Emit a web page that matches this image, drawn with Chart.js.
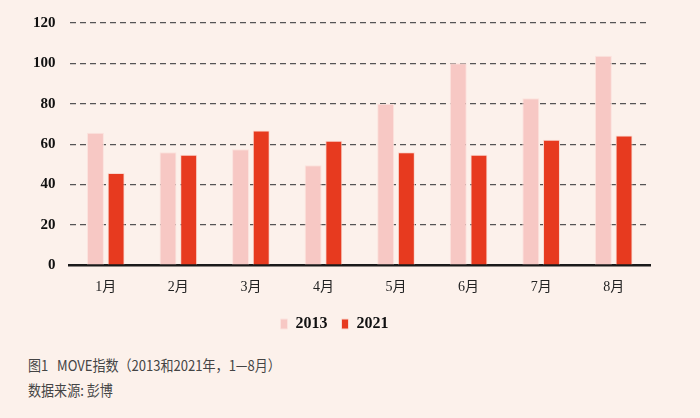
<!DOCTYPE html>
<html>
<head>
<meta charset="utf-8">
<script src="https://cdn.jsdelivr.net/npm/chart.js@4"></script>
<style>
  html,body{margin:0;padding:0;background:#fcf1eb;}
  #wrap{position:relative;width:700px;height:418px;background:#fcf1eb;}
  #cv{position:absolute;left:0;top:0;}
  .cap{position:absolute;left:28px;font-family:'Noto Sans CJK SC',sans-serif;font-size:14.5px;color:#444;white-space:nowrap;transform:scaleX(0.9);transform-origin:0 0;}
</style>
</head>
<body>
<div id="wrap">
  <div style="position:absolute;left:0;top:0;width:700px;height:345px;"><canvas id="cv" width="700" height="342"></canvas></div>
  <div class="cap" style="top:354px;">图1&nbsp;&nbsp;&nbsp;MOVE指数（2013和2021年，1—8月）</div>
  <div class="cap" style="top:379px;">数据来源: 彭博</div>
</div>
<script>
const categories = ['1月','2月','3月','4月','5月','6月','7月','8月'];
const series2013 = [65.6, 56.0, 57.4, 49.5, 80.0, 100.0, 82.7, 103.8];
const series2021 = [45.7, 54.7, 66.7, 61.6, 56.0, 54.7, 62.1, 64.2];
const yTicks = [0, 20, 40, 60, 80, 100, 120];

const numFont = "'Liberation Serif','Noto Sans CJK SC',serif";
new Chart(document.getElementById('cv'), {
  type: 'bar',
  data: {
    labels: categories,
    datasets: [
      {label:'2013', data: series2013, backgroundColor:'#f7c8c4', borderColor:'#fbe3de', borderWidth:1},
      {label:'2021', data: series2021, backgroundColor:'#e73a1f', borderColor:'#f9d8cf', borderWidth:1}
    ]
  },
  options: {
    responsive:false,
    animation:false,
    layout:{padding:{top:10,right:50,left:19,bottom:0}},
    datasets:{bar:{categoryPercentage:0.57, barPercentage:0.82}},
    plugins:{
      tooltip:{enabled:false},
      legend:{
        position:'bottom',
        labels:{boxWidth:7, boxHeight:10, color:'#111', padding:14,
          font:{family:numFont, size:16, weight:'bold'}}
      }
    },
    scales:{
      x:{
        grid:{display:false},
        border:{display:true, color:'#1a1a1a', width:2.5},
        ticks:{color:'#222', font:{family:numFont, size:14}, padding:6}
      },
      y:{
        min:0, max:120,
        afterBuildTicks: s => { s.ticks = yTicks.map(v => ({value:v})); },
        border:{display:false, dash:[6,4]},
        grid:{color: c => c.tick && c.tick.value === 0 ? 'rgba(0,0,0,0)' : '#555', lineWidth:1.2, drawTicks:false},
        ticks:{color:'#111', font:{family:numFont, size:15, weight:'bold'}, padding:14}
      }
    }
  }
});
</script>
</body>
</html>
